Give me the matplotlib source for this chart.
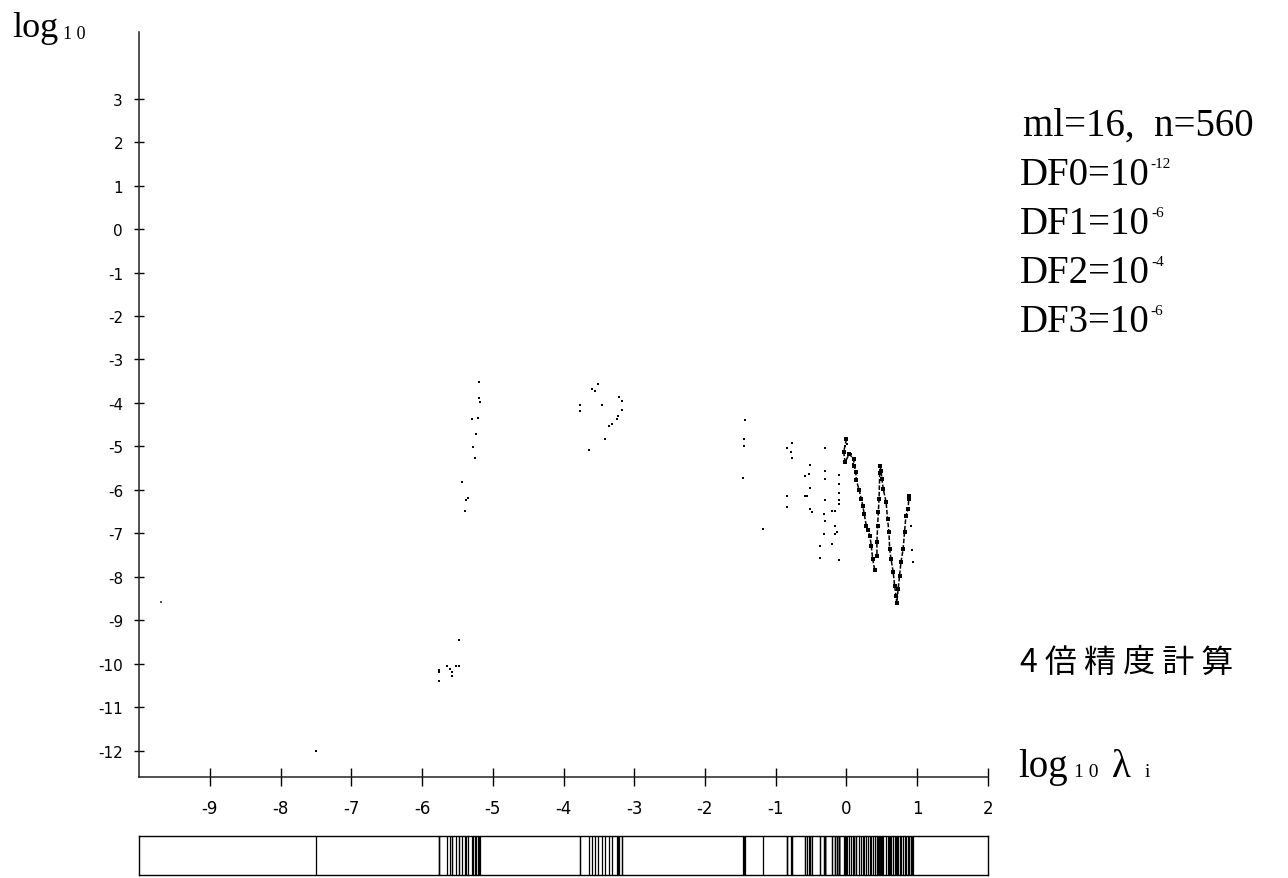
import matplotlib
matplotlib.use("Agg")
import matplotlib.pyplot as plt

W, H = 1288, 879

# stray speck on the original plot (not an eigenvalue)
SPECK_X = [-9.69]
SPECK_Y = [-8.58]

# scattered eigenvalues: (log10 lambda_i, log10 error)
SCATTER_X = [
    -7.50,
    -5.19, -5.19, -5.18, -5.29, -5.21, -5.24, -5.28, -5.25, -5.43, -5.35, -5.38, -5.39,
    -5.47, -5.76, -5.76, -5.65, -5.61, -5.58, -5.57, -5.52, -5.48, -5.76,
    -3.51, -3.60, -3.56, -3.77, -3.76, -3.46, -3.21, -3.23, -3.25, -3.31, -3.36, -3.42,
    -3.64, -3.18, -3.17,
    -1.44, -1.45, -1.45, -1.46, -1.18,
    -0.84, -0.77, -0.78, -0.77, -0.84, -0.84,
    -0.31, -0.52, -0.58, -0.53, -0.52, -0.58, -0.56, -0.51, -0.49,
    -0.31, -0.31, -0.31, -0.32, -0.30, -0.32, -0.38, -0.38,
    -0.20, -0.16, -0.16, -0.16, -0.13, -0.20, -0.11,
    -0.10, -0.11, -0.11, -0.11, -0.11,
    -0.02, 0.01, 0.07, 0.09,
    0.93, 0.94, 0.91,
]
SCATTER_Y = [
    -12.0,
    -3.51, -3.89, -3.97, -4.37, -4.35, -4.72, -5.02, -5.27, -5.81, -6.19, -6.23, -6.49,
    -9.46, -10.13, -10.18, -10.05, -10.11, -10.19, -10.28, -10.05, -10.05, -10.40,
    -3.56, -3.68, -3.72, -4.04, -4.19, -4.05, -3.87, -4.31, -4.37, -4.48, -4.54, -4.83,
    -5.07, -4.15, -3.95,
    -4.38, -4.83, -5.00, -5.73, -6.90,
    -5.04, -4.93, -5.12, -5.27, -6.13, -6.40,
    -5.03, -5.43, -5.69, -5.63, -5.96, -6.13, -6.14, -6.44, -6.51,
    -5.56, -5.75, -6.24, -6.55, -6.71, -7.01, -7.30, -7.57,
    -6.48, -6.49, -6.82, -7.01, -6.97, -7.24, -7.61,
    -5.66, -5.86, -6.08, -6.23, -6.32,
    -4.98, -4.94, -5.17, -5.40,
    -7.39, -7.66, -6.82,
]

# dense traces near the upper end of the spectrum
TRACE1_X = [0.00, -0.04, -0.02, 0.04, 0.10, 0.11, 0.13, 0.14, 0.18, 0.21, 0.23, 0.25,
            0.28, 0.30, 0.33, 0.35, 0.37, 0.40]
TRACE1_Y = [-4.83, -5.12, -5.36, -5.17, -5.29, -5.44, -5.59, -5.78, -6.01, -6.21, -6.36,
            -6.55, -6.82, -6.93, -7.05, -7.28, -7.59, -7.85]
TRACE2_X = [0.47, 0.49, 0.50, 0.52, 0.56, 0.58, 0.60, 0.61, 0.63, 0.66, 0.68, 0.70, 0.71,
            0.73, 0.75, 0.77, 0.80, 0.82, 0.84, 0.87, 0.88, 0.89]
TRACE2_Y = [-5.44, -5.56, -5.75, -5.98, -6.28, -6.67, -6.97, -7.36, -7.59, -7.89, -8.20,
            -8.43, -8.60, -8.28, -7.97, -7.66, -7.36, -6.97, -6.59, -6.44, -6.21, -6.13]
TRACE3_X = [0.47, 0.46, 0.45, 0.44, 0.43, 0.43]
TRACE3_Y = [-5.60, -6.21, -6.51, -6.82, -7.20, -7.51]

X_TICKS = list(range(-9, 3))
Y_TICKS = list(range(-12, 4))

PARAM_LINE = "ml=16,  n=560"
DF_NAMES = ["DF0=10", "DF1=10", "DF2=10", "DF3=10"]
DF_EXPONENTS = ["-12", "-6", "-4", "-6"]
NOTE = "4 倍 精 度 計 算"

SERIF = ["Liberation Serif", "DejaVu Serif"]
NARROW = ["Liberation Sans Narrow", "DejaVu Sans"]


def fx(px):
    return px / W


def fy(py):
    return 1 - py / H


def chain_text(fig, renderer, x_px, base_px, parts):
    # parts: (text, size, baseline shift in px, gap before in px)
    x = x_px
    for text, size, dy, gap in parts:
        x += gap
        t = fig.text(fx(x), fy(base_px + dy), text, fontsize=size, family=SERIF,
                     ha="left", va="baseline")
        x = t.get_window_extent(renderer).x1


def main():
    plt.rcParams["axes.unicode_minus"] = False
    fig = plt.figure(figsize=(W / 100, H / 100), dpi=100)
    renderer = fig.canvas.get_renderer()

    ax = fig.add_axes([fx(139), fy(778), fx(988 - 139), (778 - 33) / H])
    ax.set_xlim(-10, 2)
    ax.set_ylim(-12.6, 4.53)
    for side in ["top", "right"]:
        ax.spines[side].set_visible(False)
    for side in ["left", "bottom"]:
        ax.spines[side].set_linewidth(1.1)
        ax.spines[side].set_color("#222222")

    ax.plot(SCATTER_X, SCATTER_Y, "s", color="black", markersize=2.1, markeredgewidth=0)
    ax.plot(SPECK_X, SPECK_Y, "s", color="#555555", markersize=1.6, markeredgewidth=0)
    for xs, ys in [(TRACE1_X, TRACE1_Y), (TRACE2_X, TRACE2_Y), (TRACE3_X, TRACE3_Y)]:
        ax.plot(xs, ys, color="black", linewidth=1.1, linestyle=(0, (3, 1.2)))
        ax.plot(xs, ys, "s", color="black", markersize=2.2, markeredgewidth=0)

    ax.set_xticks(X_TICKS)
    ax.set_xticklabels([str(v) for v in X_TICKS], family=NARROW, fontsize=12)
    ax.set_yticks(Y_TICKS)
    ax.set_yticklabels([str(v) for v in Y_TICKS], family=NARROW, fontsize=11)
    ax.tick_params(axis="x", direction="inout", length=13, width=1.0, pad=9)
    ax.tick_params(axis="y", direction="inout", length=7, width=1.0, pad=8)

    # eigenvalue distribution strip
    bar = fig.add_axes([fx(139), fy(876), fx(988 - 139), 39 / H])
    bar.set_xlim(-10, 2)
    bar.set_ylim(0, 1)
    all_x = SCATTER_X + TRACE1_X + TRACE2_X + TRACE3_X
    bar.vlines(all_x, 0, 1, color="black", linewidth=0.9)
    bar.set_xticks([])
    bar.set_yticks([])
    for spine in bar.spines.values():
        spine.set_linewidth(1.0)

    chain_text(fig, renderer, 12, 37, [("log", 26, 0, 0), ("1 0", 13, 2, 5)])
    chain_text(fig, renderer, 1018, 777,
               [("log", 28, 0, 0), ("1 0", 14, 0, 6), ("λ", 28, 0, 14), ("i", 14, 0, 14)])

    fig.text(fx(1023), fy(136), PARAM_LINE, fontsize=28, family=SERIF,
             ha="left", va="baseline")
    for i, (name, exp) in enumerate(zip(DF_NAMES, DF_EXPONENTS)):
        chain_text(fig, renderer, 1020, 185 + 49 * i,
                   [(name, 28, 0, 0), (exp, 11, -17, 1)])

    fig.text(fx(1020), fy(672), NOTE, fontsize=23,
             family=["Noto Sans CJK JP", "DejaVu Sans"], ha="left", va="baseline")

    fig.savefig("out.png", dpi=100, facecolor="white")
    plt.close(fig)


if __name__ == "__main__":
    main()
